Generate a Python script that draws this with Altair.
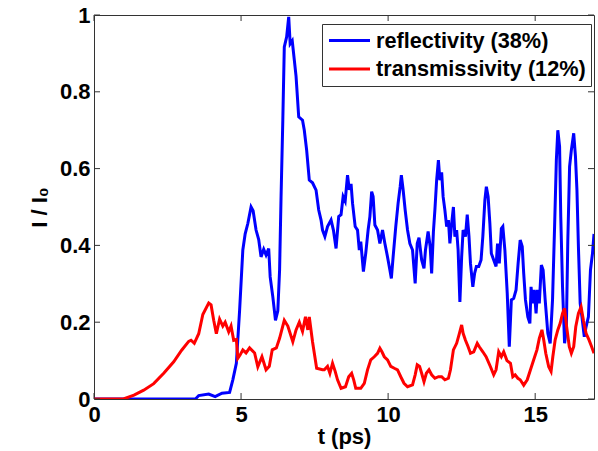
import altair as alt
import pandas as pd

# ---- data ----
t_refl = [0, 3.45, 3.56, 3.9, 4.12, 4.35, 4.61, 4.72, 4.84, 4.95, 5.06, 5.14, 5.23, 5.34, 5.41,
          5.51, 5.6, 5.68, 5.77, 5.85, 5.94, 5.99, 6.08, 6.17, 6.25, 6.31, 6.36, 6.42, 6.47, 6.55,
          6.62, 6.67, 6.74, 6.81, 6.87, 6.96, 7.09, 7.15, 7.23, 7.32, 7.43, 7.55, 7.64, 7.72,
          7.77, 7.85, 7.94, 8.06, 8.14, 8.23, 8.32, 8.4, 8.47, 8.54, 8.62, 8.68, 8.74, 8.79, 8.88,
          8.96, 9.02, 9.07, 9.16, 9.24, 9.32, 9.38, 9.44, 9.49, 9.55, 9.64, 9.72, 9.81, 9.89, 9.98,
          10.06, 10.11, 10.17, 10.26, 10.34, 10.41, 10.45, 10.51, 10.58, 10.66, 10.74, 10.83,
          10.92, 10.99, 11.05, 11.14, 11.22, 11.27, 11.36, 11.43, 11.48, 11.54, 11.59, 11.65,
          11.71, 11.76, 11.82, 11.87, 11.93, 11.99, 12.05, 12.1, 12.16, 12.22, 12.27, 12.33,
          12.38, 12.44, 12.5, 12.55, 12.63, 12.69, 12.75, 12.8, 12.88, 12.94, 13.0, 13.08, 13.16,
          13.22, 13.29, 13.34, 13.4, 13.46, 13.51, 13.59, 13.67, 13.72, 13.78, 13.85, 13.9,
          13.97, 14.05, 14.12, 14.19, 14.27, 14.35, 14.42, 14.49, 14.56, 14.61, 14.67, 14.75,
          14.82, 14.86, 14.91, 14.97, 15.03, 15.08, 15.14, 15.21, 15.27, 15.34, 15.43, 15.51,
          15.59, 15.66, 15.72, 15.77, 15.83, 15.87, 15.93, 16.0, 16.06, 16.11, 16.17, 16.23,
          16.31, 16.37, 16.42, 16.47, 16.53, 16.59, 16.67, 16.73, 16.81, 16.88, 16.95, 17.0]
r_refl = [0, 0, 0.009, 0.013, 0.006, 0.015, 0.017, 0.05, 0.093, 0.23, 0.388, 0.43, 0.457, 0.5, 0.49,
          0.44, 0.415, 0.37, 0.39, 0.375, 0.392, 0.318, 0.266, 0.205, 0.23, 0.336, 0.527, 0.727,
          0.917, 0.943, 0.995, 0.925, 0.933, 0.883, 0.84, 0.735, 0.726, 0.7, 0.648, 0.57, 0.563,
          0.544, 0.492, 0.466,
          0.44, 0.423, 0.449, 0.466, 0.44, 0.392, 0.475, 0.48, 0.527, 0.515, 0.583, 0.545, 0.56,
          0.51, 0.449, 0.44, 0.388, 0.41, 0.332, 0.38, 0.44, 0.475, 0.54, 0.527, 0.453, 0.44,
          0.405, 0.44, 0.405, 0.37, 0.336, 0.314, 0.37, 0.449, 0.51, 0.553, 0.583, 0.545, 0.492,
          0.44, 0.405, 0.388, 0.301, 0.405, 0.42, 0.362, 0.34, 0.388, 0.436, 0.397, 0.327, 0.436,
          0.492, 0.57, 0.622, 0.57, 0.59, 0.527, 0.492, 0.449, 0.466, 0.405, 0.457, 0.5, 0.423,
          0.44, 0.388, 0.253, 0.37, 0.44, 0.423, 0.48, 0.423, 0.353, 0.292, 0.327, 0.345, 0.345,
          0.362, 0.423, 0.518, 0.553, 0.527, 0.457, 0.379, 0.362, 0.345, 0.405, 0.353, 0.444,
          0.449, 0.388, 0.275, 0.136, 0.258, 0.262, 0.284, 0.353, 0.414, 0.397, 0.327, 0.258,
          0.214, 0.197, 0.292, 0.249, 0.284, 0.223, 0.284, 0.249, 0.349, 0.336, 0.258, 0.171,
          0.145, 0.258, 0.449, 0.622, 0.7, 0.657, 0.475, 0.292, 0.145, 0.184, 0.414, 0.605,
          0.648, 0.692, 0.631, 0.544, 0.397, 0.249, 0.214, 0.162, 0.188, 0.214, 0.336, 0.38, 0.43]

t_trans = [0, 1.0, 1.36, 1.69, 2.03, 2.37, 2.71, 2.98, 3.22, 3.3, 3.41, 3.56, 3.7, 3.9, 3.98, 4.07,
           4.16, 4.27, 4.38, 4.46, 4.58, 4.66, 4.75, 4.84, 4.89, 4.97, 5.06, 5.17, 5.29, 5.46,
           5.57, 5.71, 5.85, 5.96, 6.06, 6.2, 6.31, 6.47, 6.59, 6.76, 6.87, 6.98, 7.09, 7.19,
           7.27, 7.32, 7.43, 7.57, 7.77, 7.83, 7.94, 8.02, 8.11, 8.2, 8.28, 8.4, 8.55, 8.66, 8.76,
           8.83, 8.9, 9.07, 9.19, 9.3, 9.41, 9.53, 9.64, 9.72, 9.79, 9.87, 9.98, 10.09, 10.21,
           10.32, 10.43, 10.54, 10.66, 10.83, 10.92, 10.99, 11.07, 11.14, 11.22, 11.3, 11.39,
           11.48, 11.59, 11.71, 11.82, 11.93, 12.05, 12.12, 12.22, 12.33, 12.41, 12.5, 12.55,
           12.63, 12.72, 12.8, 12.91, 13.03, 13.1, 13.22, 13.33, 13.48, 13.59, 13.67, 13.76,
           13.85, 13.93, 14.04, 14.16, 14.24, 14.32, 14.41, 14.49, 14.61, 14.73, 14.84, 14.95,
           15.06, 15.14, 15.23, 15.29, 15.36, 15.46, 15.54, 15.6, 15.68, 15.77, 15.85, 15.93,
           16.0, 16.07, 16.16, 16.23, 16.31, 16.38, 16.47, 16.56, 16.64, 16.73, 16.83, 16.92, 17.0]
r_trans = [0, 0, 0.01, 0.023, 0.04, 0.067, 0.097, 0.127, 0.15, 0.153, 0.145, 0.17, 0.22, 0.25,
           0.245, 0.205, 0.17, 0.208, 0.19, 0.2, 0.175, 0.19, 0.153, 0.155, 0.106, 0.115, 0.128,
           0.12, 0.133, 0.12, 0.084, 0.11, 0.076, 0.085, 0.128, 0.133, 0.158, 0.205, 0.19, 0.149,
           0.18, 0.2, 0.176, 0.214, 0.18, 0.214, 0.149, 0.08, 0.076, 0.076, 0.085, 0.067, 0.093,
           0.072, 0.05, 0.028, 0.032, 0.058, 0.067, 0.05, 0.028, 0.028, 0.041, 0.076, 0.102,
           0.11, 0.119, 0.132, 0.123, 0.11, 0.102, 0.085, 0.08, 0.076, 0.058, 0.041, 0.032,
           0.037, 0.063, 0.089, 0.085, 0.067, 0.045, 0.067, 0.076, 0.063, 0.054, 0.058, 0.058,
           0.05, 0.054, 0.076, 0.128, 0.145, 0.167, 0.193, 0.171, 0.153, 0.136, 0.119, 0.123,
           0.145, 0.136, 0.123, 0.11, 0.084, 0.063, 0.076, 0.123, 0.11, 0.123, 0.1, 0.093,
           0.058, 0.063, 0.054, 0.05, 0.036, 0.05, 0.076, 0.102, 0.128, 0.158, 0.18, 0.154,
           0.119, 0.084, 0.072, 0.11, 0.154, 0.18, 0.197, 0.223, 0.236, 0.188, 0.136, 0.119,
           0.136, 0.188, 0.223, 0.24, 0.205, 0.171, 0.154, 0.136, 0.119]

series_names = ["reflectivity (38%)", "transmissivity (12%)"]
series_colors = ["#0000ff", "#ff0000"]
x_ticks = [0, 5, 10, 15]
y_ticks = [0, 0.2, 0.4, 0.6, 0.8, 1.0]
x_title = "t (ps)"
y_title = "I / I\u2080"

# ---- build table ----
df = pd.concat([
    pd.DataFrame({"t": t_refl, "I": r_refl, "series": series_names[0], "k": 0}),
    pd.DataFrame({"t": t_trans, "I": r_trans, "series": series_names[1], "k": 1}),
], ignore_index=True)
df_xt = pd.DataFrame({"t": x_ticks})
df_yt = pd.DataFrame({"I": y_ticks})

W, H = 500, 384
FONT = "Liberation Sans"
FRAME = "#333333"
TICKLEN = 6

x_scale = alt.Scale(domain=[0, 17], nice=False, zero=False)
y_scale = alt.Scale(domain=[0, 1], nice=False, zero=False)

x_axis = alt.Axis(
    values=x_ticks, title=x_title, ticks=False, domain=False, grid=False,
    labelFont=FONT, labelFontSize=22, labelFontWeight="bold", labelColor="black",
    labelPadding=5, labelFlush=False,
    titleFont=FONT, titleFontSize=22, titleFontWeight="bold", titleColor="black",
    titleBaseline="alphabetic", titleY=44, titleX=W / 2)
y_axis = alt.Axis(
    values=y_ticks, title=y_title, format="~g", ticks=False, domain=False, grid=False,
    labelFont=FONT, labelFontSize=22, labelFontWeight="bold", labelColor="black",
    labelPadding=4,
    titleFont=FONT, titleFontSize=22, titleFontWeight="bold", titleColor="black",
    titleAngle=270, titleBaseline="middle", titleX=-55, titleY=H / 2)

lines = alt.Chart(df).mark_line(strokeWidth=3, clip=True).encode(
    x=alt.X("t:Q", scale=x_scale, axis=x_axis, title=x_title),
    y=alt.Y("I:Q", scale=y_scale, axis=y_axis, title=y_title),
    color=alt.Color("series:N", scale=alt.Scale(domain=series_names, range=series_colors),
                    legend=alt.Legend(
                        title=None, orient="none", legendX=228, legendY=9,
                        direction="vertical", symbolType="M-2.05,0H2.05",
                        symbolStrokeWidth=3, symbolSize=400, symbolOffset=11,
                        labelFont=FONT, labelFontSize=21.7,
                        labelFontWeight="bold", labelColor="black", labelOffset=15,
                        labelLimit=0,
                        strokeColor=FRAME, fillColor="white", padding=5, rowPadding=4.6,
                        cornerRadius=0)),
    order=alt.Order("t:Q"),
    detail="k:N",
)

tick_style = dict(color=FRAME, strokeWidth=1)
xt_bottom = alt.Chart(df_xt).mark_rule(**tick_style).encode(
    x=alt.X("t:Q", scale=x_scale, axis=x_axis, title=x_title),
    y=alt.value(H), y2=alt.value(H - TICKLEN))
xt_top = alt.Chart(df_xt).mark_rule(**tick_style).encode(
    x=alt.X("t:Q", scale=x_scale, axis=x_axis, title=x_title),
    y=alt.value(0), y2=alt.value(TICKLEN))
yt_left = alt.Chart(df_yt).mark_rule(**tick_style).encode(
    y=alt.Y("I:Q", scale=y_scale, axis=y_axis, title=y_title),
    x=alt.value(0), x2=alt.value(TICKLEN))
yt_right = alt.Chart(df_yt).mark_rule(**tick_style).encode(
    y=alt.Y("I:Q", scale=y_scale, axis=y_axis, title=y_title),
    x=alt.value(W - TICKLEN), x2=alt.value(W))

chart = alt.layer(lines, xt_bottom, xt_top, yt_left, yt_right).properties(
    width=W, height=H,
    autosize=alt.AutoSizeParams(type="none"),
    padding={"left": 94, "top": 15, "right": 4, "bottom": 52},
    background="white",
).configure_view(stroke=FRAME, strokeWidth=1)

chart.save("out.html", embed_options={"renderer": "svg", "actions": False})
